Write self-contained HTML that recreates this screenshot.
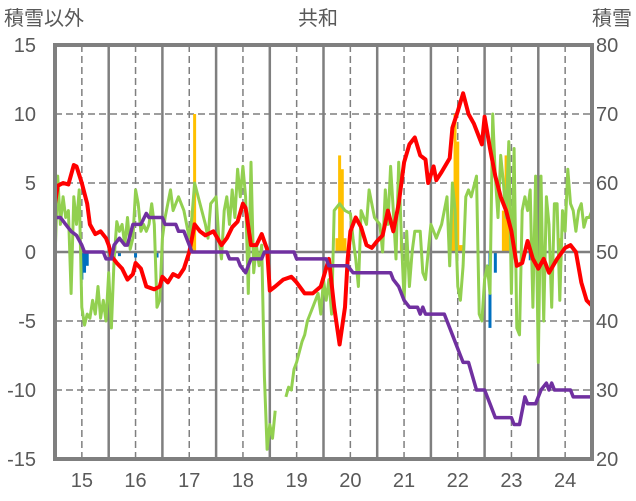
<!DOCTYPE html>
<html><head><meta charset="utf-8"><style>
body{margin:0;background:#fff;}
svg{display:block;font-family:"Liberation Sans","Noto Sans CJK JP",sans-serif;}
</style></head><body>
<svg id="chart" width="636" height="501" viewBox="0 0 636 501" xmlns="http://www.w3.org/2000/svg">
<rect width="636" height="501" fill="#fff"/>
<g id="grid"></g>
<g id="bars"></g>
<g id="lines"></g>
<g id="axes"></g>
<text x="4" y="25" font-size="20" fill="#595959">積雪以外</text>
<text x="318" y="25" font-size="20" fill="#595959" text-anchor="middle">共和</text>
<text x="632" y="25" font-size="20" fill="#595959" text-anchor="end">積雪</text>
</svg>
<script>
const leftTicks=[15,10,5,0,-5,-10,-15];
const rightTicks=[80,70,60,50,40,30,20];
const yearLabels=["15","16","17","18","19","20","21","22","23","24"];
const redT=[2014.5,2014.55,2014.65,2014.75,2014.85,2014.9,2015.0,2015.1,2015.15,2015.25,2015.35,2015.45,2015.5,2015.55,2015.65,2015.75,2015.85,2015.95,2016.0,2016.1,2016.2,2016.35,2016.45,2016.5,2016.6,2016.7,2016.8,2016.9,2017.0,2017.1,2017.2,2017.3,2017.45,2017.6,2017.7,2017.8,2017.9,2018.0,2018.05,2018.15,2018.25,2018.35,2018.45,2018.5,2018.6,2018.75,2018.9,2019.0,2019.15,2019.3,2019.45,2019.6,2019.7,2019.8,2019.9,2019.95,2020.0,2020.1,2020.2,2020.3,2020.4,2020.5,2020.6,2020.7,2020.8,2020.9,2021.0,2021.1,2021.2,2021.3,2021.4,2021.45,2021.55,2021.6,2021.7,2021.85,2021.9,2022.0,2022.1,2022.2,2022.3,2022.45,2022.5,2022.6,2022.7,2022.8,2022.9,2023.0,2023.1,2023.2,2023.3,2023.4,2023.5,2023.6,2023.7,2023.85,2024.0,2024.1,2024.2,2024.3,2024.4,2024.5];
const redV=[3.5,4.8,5.0,4.9,6.3,6.2,5.0,3.5,2.0,1.3,1.5,1.0,0.5,-0.3,-0.8,-1.2,-2.0,-1.6,-0.8,-1.2,-2.5,-2.7,-2.5,-1.8,-2.2,-1.6,-1.8,-1.2,0,2.0,1.5,1.2,1.5,0.5,1.0,1.8,2.2,3.5,3.2,0.5,0.5,1.3,0.2,-2.8,-2.5,-2.0,-1.8,-2.2,-3.0,-3.0,-2.5,-0.5,-4.0,-6.7,-4.0,-0.5,1.5,2.5,1.8,0.5,0.3,0.8,1.2,3.0,1.5,3.5,6.5,7.8,8.3,7.0,6.7,5.0,6.2,5.2,5.8,6.8,9.0,10.2,11.5,10.0,9.3,7.8,9.8,7.5,5.5,4.0,3.0,1.5,-1.0,-0.8,0.8,-0.5,-1.2,-0.5,-1.5,-0.5,0.3,0.5,0,-2.2,-3.5,-3.9];
const greenT=[2014.5,2014.55,2014.6,2014.65,2014.7,2014.75,2014.8,2014.85,2014.9,2014.95,2015.0,2015.05,2015.1,2015.15,2015.2,2015.25,2015.3,2015.35,2015.4,2015.45,2015.5,2015.55,2015.6,2015.65,2015.7,2015.75,2015.8,2015.85,2015.9,2015.95,2016.0,2016.05,2016.1,2016.15,2016.2,2016.25,2016.3,2016.35,2016.4,2016.45,2016.5,2016.55,2016.65,2016.7,2016.8,2016.9,2017.0,2017.05,2017.1,2017.2,2017.3,2017.35,2017.4,2017.5,2017.55,2017.6,2017.65,2017.7,2017.75,2017.8,2017.85,2017.9,2017.95,2018.0,2018.05,2018.1,2018.15,2018.2,2018.25,2018.3,2018.35,2018.4,2018.45,2018.5,2018.55,2018.6,null,2018.8,2018.85,2018.9,2018.95,2019.0,2019.1,2019.15,2019.2,2019.3,2019.4,2019.45,2019.5,2019.55,2019.6,2019.65,2019.7,2019.8,2019.9,2020.0,2020.05,2020.1,2020.15,2020.2,2020.3,2020.35,2020.45,2020.55,2020.6,2020.65,2020.7,2020.75,2020.8,2020.85,2020.9,2020.95,2021.0,2021.05,2021.1,2021.15,2021.2,2021.3,2021.35,2021.4,2021.45,2021.5,2021.6,2021.7,2021.8,2021.85,2021.9,2021.95,2022.0,2022.05,2022.1,2022.15,2022.2,2022.25,2022.35,2022.4,2022.45,2022.5,2022.55,2022.6,2022.65,2022.7,2022.75,2022.8,2022.85,2022.9,2022.95,2023.0,2023.05,2023.1,2023.15,2023.2,2023.25,2023.3,2023.35,2023.4,2023.45,2023.5,2023.55,2023.6,2023.65,2023.7,2023.75,2023.8,2023.85,2023.9,2023.95,2024.0,2024.05,2024.1,2024.15,2024.2,2024.25,2024.3,2024.35,2024.4,2024.45,2024.5];
const greenV=[-0.5,5.5,2.0,4.0,2.5,3.0,-3.0,4.0,2.0,4.5,-4.0,-5.3,-4.5,-4.8,-3.5,-4.5,-2.5,-4.8,-3.5,-5.0,-1.5,-5.5,-0.5,2.2,1.5,2.0,0.5,2.5,0.2,1.0,4.5,3.5,1.5,2.0,1.5,2.0,3.5,2.0,-4.0,-3.5,1.0,2.5,4.5,3.0,4.0,3.0,1.0,2.5,5.0,3.5,2.0,1.0,3.5,4.0,1.0,-0.5,3.0,4.0,2.0,4.5,2.5,6.0,4.0,6.2,4.0,-3.0,6.5,-1.5,0.5,-1.0,0.5,-9.0,-14.3,-12.5,-13.5,-11.5,null,-10.5,-9.8,-10.0,-8.5,-8.0,-6.5,-6.0,-5.0,-4.0,-3.0,-4.5,-2.0,-3.5,-2.0,-4.5,3.0,3.5,3.0,2.8,1.0,-0.5,-2.5,3.0,2.0,4.5,2.5,2.0,0,4.5,2.0,6.2,3.0,-0.5,6.5,1.0,-3.5,1.5,-2.5,0,1.5,1.5,-1.5,-2.0,0,2.0,1.0,2.0,4.0,-1.0,5.0,3.0,-2.5,-3.5,-1.0,4.0,4.5,4.0,5.5,-4.5,-5.0,-2.0,-1.0,-3.0,10.0,5.5,2.5,7.0,5.0,2.5,8.0,-3.0,7.5,-5.5,-6.0,3.0,4.0,3.0,4.5,-4.0,5.5,-8.0,5.5,-5.0,4.0,2.0,-4.0,3.5,3.5,-3.5,3.0,1.5,6.0,3.5,3.0,1.5,3.0,3.5,1.8,2.5,2.5,3.0];
const purpleT=[2014.5,2014.6,2014.7,2014.8,2014.9,2015.0,2015.05,2015.4,2015.45,2015.55,2015.6,2015.7,2015.8,2015.85,2015.95,2016.1,2016.2,2016.25,2016.5,2016.55,2016.75,2016.8,2016.9,2017.0,2017.05,2017.7,2017.75,2017.9,2017.95,2018.05,2018.15,2018.35,2018.4,2018.95,2019.0,2019.55,2019.6,2019.95,2020.05,2020.75,2020.8,2020.9,2021.0,2021.1,2021.25,2021.3,2021.35,2021.4,2021.75,2021.85,2021.9,2022.05,2022.1,2022.2,2022.35,2022.5,2022.6,2022.7,2023.0,2023.05,2023.15,2023.25,2023.3,2023.45,2023.55,2023.65,2023.7,2023.75,2023.8,2024.1,2024.15,2024.5];
const purpleV=[55,55,54,53,52.4,51,50,50,49,49,51,52,51,51,54,54,55.6,55,55,54,54,53,53,51,50,50,49,49,48,47,49,49,50,50,49,49,48,48,47,47,46,45,43,42,42,41,42,41,41,39,38,35,34,34,30,30,28,26,26,25,25,29,28,28,30,31,30,31,30,30,29,29];
const barT=[2015.0,2015.05,2015.1,2015.7,2016.0,2016.4,2017.05,2017.1,2018.2,2019.75,2019.8,2019.85,2019.9,2020.95,2021.9,2021.95,2022.0,2022.05,2022.1,2022.6,2022.7,2022.85,2022.9,2022.95,2023.0,2023.35,2023.45,2023.9];
const barV=[-2.0,-1.5,-1.0,-0.3,-0.4,-0.4,3.0,10.0,-1.0,1.0,7.0,6.0,1.0,1.0,4.0,10.0,8.0,0.5,0.5,-5.5,-1.5,3.0,7.0,6.0,3.0,-0.6,-1.0,1.0];

const L=55,R=592,T=45,B=459,NS="http://www.w3.org/2000/svg";
const x=t=>L+(t-2014.5)*(R-L)/10;
const yl=v=>T+(15-v)*(B-T)/30;
const yr=v=>T+(80-v)*(B-T)/60;
function mk(tag,attrs,parent){const e=document.createElementNS(NS,tag);for(const k in attrs)e.setAttribute(k,attrs[k]);parent.appendChild(e);return e;}
const grid=document.getElementById('grid'),bars=document.getElementById('bars'),lines=document.getElementById('lines'),axes=document.getElementById('axes');
leftTicks.forEach((v,i)=>{
  if(v!==15&&v!==-15&&v!==0){const g=mk('line',{x1:L,x2:R,y1:yl(v),y2:yl(v),stroke:'#7f7f7f','stroke-width':1.5,'stroke-dasharray':'7,4'},grid);
  
  }
  const t=mk('text',{x:36,y:yl(v)+7,'font-size':20,fill:'#595959','text-anchor':'end'},axes);t.textContent=v;
  
  
  const r=mk('text',{x:596,y:yl(v)+7,'font-size':20,fill:'#595959'},axes);r.textContent=rightTicks[i];
  
  
});
yearLabels.forEach((lab,i)=>{
  const xc=x(2015+i);
  const d=mk('line',{x1:xc,x2:xc,y1:T,y2:B,stroke:'#7f7f7f','stroke-width':1.5,'stroke-dasharray':'7,4'},grid);
  
  
  if(i<9){const s=mk('line',{x1:x(2015.5+i),x2:x(2015.5+i),y1:T,y2:B,stroke:'#7f7f7f','stroke-width':2.5},grid);
  
  }
  const t=mk('text',{x:xc,y:487,'font-size':20,fill:'#595959','text-anchor':'middle'},axes);t.textContent=lab;
  
  
});
barT.forEach((t,i)=>{
  const v=barV[i];const y0=yl(0),y1=yl(v);
  const b=mk('rect',{x:x(t)-1.5,width:3,y:Math.min(y0,y1),height:Math.abs(y1-y0),fill:v>=0?'#ffc000':'#0070c0'},bars);
  
  
});
function path(ts,vs,yf){let d='',pen=false;ts.forEach((t,i)=>{if(t===null||vs[i]===null){pen=false;return;}d+=(pen?'L':'M')+x(t).toFixed(1)+','+yf(vs[i]).toFixed(1);pen=true;});return d;}
const z=mk('line',{x1:L,x2:R,y1:yl(0),y2:yl(0),stroke:'#7f7f7f','stroke-width':2.5},lines);


const g=mk('path',{d:path(greenT,greenV,yl),fill:'none',stroke:'#92d050','stroke-width':3,'stroke-linejoin':'round'},lines);


const r=mk('path',{d:path(redT,redV,yl),fill:'none',stroke:'#ff0000','stroke-width':4,'stroke-linejoin':'round'},lines);


const p=mk('path',{d:path(purpleT,purpleV,yr),fill:'none',stroke:'#7030a0','stroke-width':3.5,'stroke-linejoin':'round'},lines);


const f=mk('rect',{x:L,y:T,width:R-L,height:B-T,fill:'none',stroke:'#7f7f7f','stroke-width':4},axes);


</script>
</body></html>
